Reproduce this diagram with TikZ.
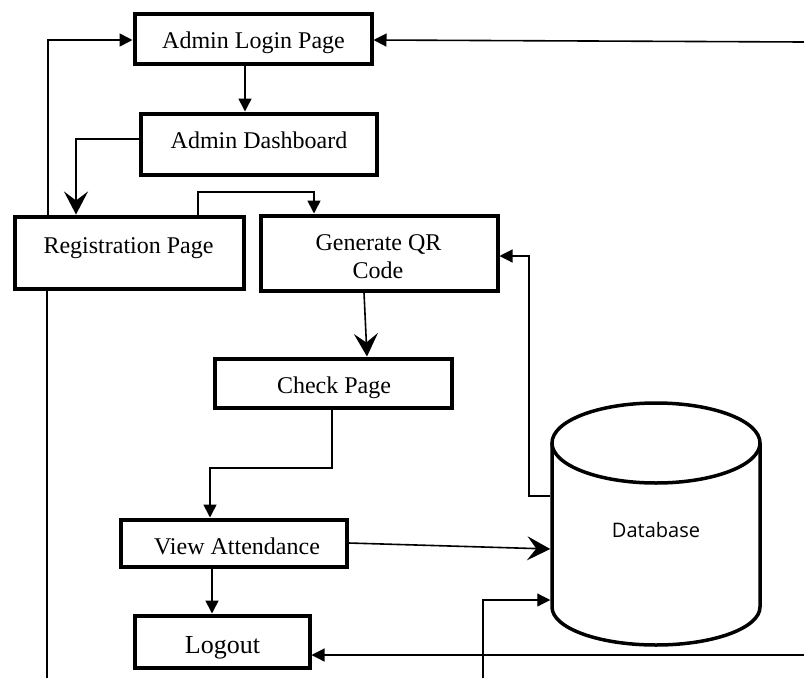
\documentclass[tikz,border=0pt]{standalone}
\usepackage{fontspec}
\setmainfont{Liberation Serif}
\newfontfamily\dbfont{Open Sans}
\usetikzlibrary{arrows.meta,calc}
\begin{document}
\begin{tikzpicture}[x=1pt,y=-1pt,
  box/.style={draw, line width=4pt, rectangle, inner sep=0pt},
  txt/.style={inner sep=0pt, anchor=base, font=\fontsize{24}{28}\selectfont},
  con/.style={line width=1.6pt},
  thin/.style={line width=1.2pt},
  tri/.style={-{Triangle[length=13pt,width=13pt]}},
  stl/.style={-{Stealth[length=23pt,width=24pt,inset=9pt]}},
]
\useasboundingbox (0,0) rectangle (804,678);
\fill[white] (0,0) rectangle (804,678);

% boxes
\node[box, minimum width=237pt, minimum height=50pt] (login) at (253,39) {};
\node[box, minimum width=236pt, minimum height=61pt] (dash) at (258.5,144) {};
\node[box, minimum width=229pt, minimum height=72pt] (reg) at (129,252.5) {};
\node[box, minimum width=237pt, minimum height=75pt] (genqr) at (379,253) {};
\node[box, minimum width=237pt, minimum height=49pt] (check) at (333,383) {};
\node[box, minimum width=226pt, minimum height=47pt] (viewatt) at (233.5,543) {};
\node[box, minimum width=175pt, minimum height=52pt] (logout) at (222,641.5) {};

% texts
\node[txt] (t1) at (253.5,48) {Admin Login Page};
\node[txt] (t2) at (259,148) {Admin Dashboard};
\node[txt] (t3) at (128.5,253) {Registration Page};
\node[txt] (t4) at (378.5,250) {Generate QR};
\node[txt] (t5) at (378,278) {Code};
\node[txt] (t6) at (334,393) {Check Page};
\node[txt] (t7) at (237,554) {View Attendance};
\node[txt, font=\fontsize{26}{30}\selectfont] (t8) at (222.5,653) {Logout};

% database cylinder
\node[minimum width=211.5pt, minimum height=246pt, inner sep=0pt, outer sep=0pt] (db) at (656,524) {};
\draw[line width=3.5pt] (656,443) ellipse [x radius=104pt, y radius=40pt];
\draw[line width=3.5pt, line join=round] (552,443) -- (552,607) arc[start angle=180, end angle=360, x radius=104pt, y radius=38pt] -- (760,443);
\node[inner sep=0pt, anchor=base, font=\dbfont\fontsize{20}{24}\selectfont] (t9) at (656,537) {Database};

% connectors
\coordinate (bl) at (47,678);
\coordinate (ll) at (48,40);
\draw[con] (bl) -- (bl |- reg.south);
\draw[con,tri] (reg.north -| ll) -- (ll) -- (login.west |- ll);

\coordinate (rt) at (804,42);
\coordinate (lr) at (0,40);
\draw[con,tri] (rt) -- (login.east |- lr);

\coordinate (a1) at (245,0);
\draw[con,tri] (login.south -| a1) -- (dash.north -| a1);

\coordinate (a2) at (76,139);
\draw[con,stl] (dash.west |- a2) -- (a2) -- (reg.north -| a2);

\coordinate (a3) at (198,192);
\coordinate (a4) at (314,192);
\draw[con,tri] (reg.north -| a3) -- (a3) -- (a4) -- (genqr.north -| a4);

\coordinate (a5) at (364,0);
\coordinate (a6) at (367,0);
\draw[con,stl] (genqr.south -| a5) -- (check.north -| a6);

\coordinate (a7) at (529,496);
\coordinate (a8) at (529,256);
\draw[thin,tri] (db.west |- a7) -- (a7) -- (a8) -- (genqr.east |- a8);

\coordinate (a9) at (332,468);
\coordinate (a10) at (210,468);
\draw[con,tri] (check.south -| a9) -- (a9) -- (a10) -- (viewatt.north -| a10);

\coordinate (a11) at (0,549);
\draw[con,stl] (viewatt.east) -- (db.west |- a11);

\coordinate (a12) at (212,0);
\draw[con,tri] (viewatt.south -| a12) -- (logout.north -| a12);

\coordinate (rb) at (804,655);
\draw[thin,tri] (rb) -- (logout.east |- rb);

\coordinate (bb) at (483,678);
\coordinate (a13) at (483,600);
\draw[thin,tri] (bb) -- (a13) -- (db.west |- a13);
\end{tikzpicture}
\end{document}
